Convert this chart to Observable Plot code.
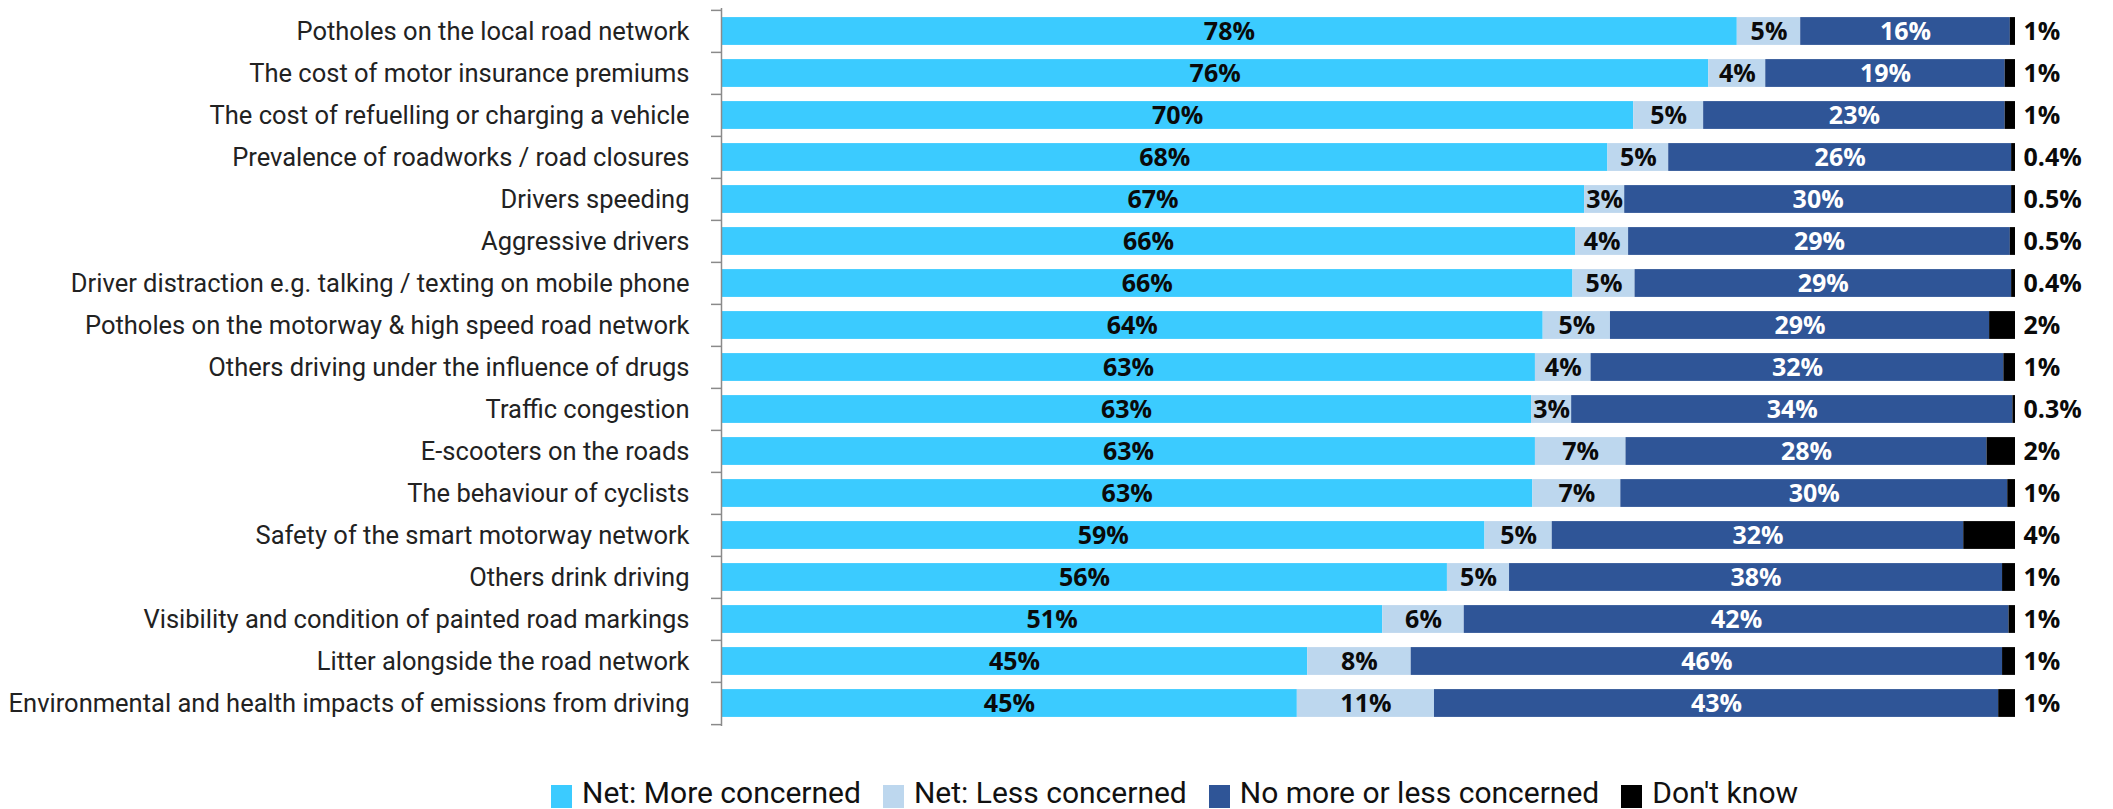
<!DOCTYPE html>
<html>
<head>
<meta charset="utf-8">
<script src="https://cdn.jsdelivr.net/npm/d3@7"></script>
<script src="https://cdn.jsdelivr.net/npm/@observablehq/plot@0.6"></script>
<style>
  html, body { margin: 0; padding: 0; background: #fff; }
  #chart svg { display: block; }
  #legend {
    display: flex; align-items: center; height: 39px; box-sizing: border-box;
    padding-top: 7px; padding-left: 551px;
    font-family: Roboto, "Noto Sans", sans-serif; font-size: 30px; line-height: 36px; color: #111;
    white-space: nowrap;
  }
  #legend .sw { display: inline-block; width: 21px; height: 23px; margin-right: 10px; position: relative; top: 3px; }
  #legend .item { display: inline-flex; align-items: center; margin-right: 22px; }
</style>
</head>
<body>
<div id="chart"></div>
<div id="legend"></div>
<script>
const categories = [
  "Potholes on the local road network",
  "The cost of motor insurance premiums",
  "The cost of refuelling or charging a vehicle",
  "Prevalence of roadworks / road closures",
  "Drivers speeding",
  "Aggressive drivers",
  "Driver distraction e.g. talking / texting on mobile phone",
  "Potholes on the motorway & high speed road network",
  "Others driving under the influence of drugs",
  "Traffic congestion",
  "E-scooters on the roads",
  "The behaviour of cyclists",
  "Safety of the smart motorway network",
  "Others drink driving",
  "Visibility and condition of painted road markings",
  "Litter alongside the road network",
  "Environmental and health impacts of emissions from driving"
];
const seriesNames = ["Net: More concerned", "Net: Less concerned", "No more or less concerned", "Don't know"];
const seriesColors = ["#3BCBFF", "#BDD7EE", "#2F5597", "#000000"];

const moreConcerned = [78.5, 76.3, 70.5, 68.5, 66.7, 66.0, 65.8, 63.5, 62.9, 62.6, 62.9, 62.7, 59.0, 56.1, 51.1, 45.3, 44.5];
const lessConcerned = [4.9, 4.4, 5.4, 4.7, 3.1, 4.1, 4.8, 5.2, 4.3, 3.1, 7.0, 6.8, 5.2, 4.8, 6.3, 8.0, 10.6];
const noChange      = [16.2, 18.5, 23.3, 26.5, 29.9, 29.5, 29.1, 29.3, 31.9, 34.1, 27.9, 29.9, 31.8, 38.1, 42.1, 45.7, 43.6];
const dontKnow      = [0.4, 0.8, 0.8, 0.3, 0.3, 0.4, 0.3, 2.0, 0.9, 0.2, 2.2, 0.6, 4.0, 1.0, 0.5, 1.0, 1.3];

const moreLabels = ["78%","76%","70%","68%","67%","66%","66%","64%","63%","63%","63%","63%","59%","56%","51%","45%","45%"];
const lessLabels = ["5%","4%","5%","5%","3%","4%","5%","5%","4%","3%","7%","7%","5%","5%","6%","8%","11%"];
const noChangeLabels = ["16%","19%","23%","26%","30%","29%","29%","29%","32%","34%","28%","30%","32%","38%","42%","46%","43%"];
const dontKnowLabels = ["1%","1%","1%","0.4%","0.5%","0.5%","0.4%","2%","1%","0.3%","2%","1%","4%","1%","1%","1%","1%"];

const valueArrays = [moreConcerned, lessConcerned, noChange, dontKnow];
const labelArrays = [moreLabels, lessLabels, noChangeLabels, dontKnowLabels];

const data = [];
categories.forEach((c, i) => {
  seriesNames.forEach((s, j) => {
    data.push({category: c, series: s, value: valueArrays[j][i], label: labelArrays[j][i], idx: j});
  });
});
const dkData = categories.map((c, i) => ({category: c, label: dontKnowLabels[i]}));

const W = 2113, H = 770, mTop = 8, mBottom = 44, mLeft = 721, mRight = 98;
const step = (H - mTop - mBottom) / categories.length;
const inset = step * 0.168;

const valueFont = {fontFamily: "'Open Sans', 'Noto Sans', sans-serif", fontWeight: "bold", fontSize: 25};

const chart = Plot.plot({
  width: W, height: H,
  marginLeft: mLeft, marginRight: mRight, marginTop: mTop, marginBottom: mBottom,
  style: {fontFamily: "Roboto, 'Noto Sans', sans-serif", color: "#222", background: "#fff"},
  x: {domain: [0, 100], axis: null},
  y: {domain: categories, padding: 0, axis: null, label: null},
  color: {domain: seriesNames, range: seriesColors},
  marks: [
    Plot.barX(data, Plot.stackX({y: "category", x: "value", fill: "series", z: "series", order: seriesNames, insetTop: inset, insetBottom: inset})),
    Plot.text(data, Plot.stackX({y: "category", x: "value", z: "series", order: seriesNames,
      text: d => (d.idx === 0 || d.idx === 1) ? d.label : "", fill: "#0a0a0a", ...valueFont})),
    Plot.text(data, Plot.stackX({y: "category", x: "value", z: "series", order: seriesNames,
      text: d => d.idx === 2 ? d.label : "", fill: "#ffffff", ...valueFont})),
    Plot.text(dkData, {y: "category", text: "label", frameAnchor: "right", textAnchor: "start", dx: 8, fill: "#0a0a0a", ...valueFont}),
    Plot.axisY({tickSize: 0, tickPadding: 32, fontSize: 25.5, fill: "#222", label: null}),
    Plot.ruleX([0], {stroke: "#8a8a8a", strokeWidth: 1.5}),
    Plot.ruleY(categories, {y: d => d, dy: -step / 2, x1: 0, x2: 0, insetLeft: -10, stroke: "#8a8a8a", strokeWidth: 1.5}),
    Plot.ruleY(categories.slice(-1), {y: d => d, dy: step / 2, x1: 0, x2: 0, insetLeft: -10, stroke: "#8a8a8a", strokeWidth: 1.5})
  ]
});
document.getElementById("chart").appendChild(chart);

const legend = document.getElementById("legend");
seriesNames.forEach((s, i) => {
  const item = document.createElement("span");
  item.className = "item";
  const sw = document.createElement("span");
  sw.className = "sw";
  sw.style.background = seriesColors[i];
  item.appendChild(sw);
  const t = document.createElement("span");
  t.textContent = s;
  item.appendChild(t);
  legend.appendChild(item);
});
</script>
</body>
</html>
